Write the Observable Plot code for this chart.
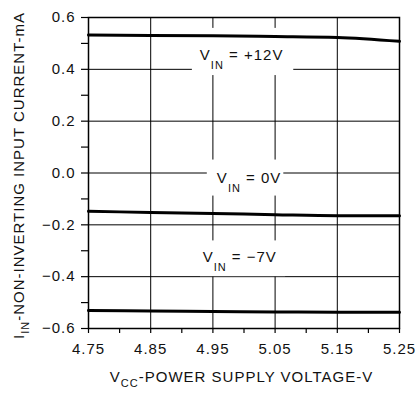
<!DOCTYPE html>
<html><head><meta charset="utf-8">
<script src="https://cdn.jsdelivr.net/npm/d3@7"></script>
<script src="https://cdn.jsdelivr.net/npm/@observablehq/plot@0.6"></script>
<style>
html,body{margin:0;padding:0;background:#fff;}
</style></head><body><div id="chart"></div>
<script>
// ---- data ----
const vcc = [4.75, 4.85, 4.95, 5.05, 5.15, 5.25];
const iinPlus12 = [0.532, 0.531, 0.530, 0.527, 0.523, 0.508];
const iinZero = [-0.148, -0.152, -0.156, -0.161, -0.165, -0.165];
const iinMinus7 = [-0.531, -0.532, -0.534, -0.536, -0.537, -0.537];
const seriesNames = ["+12V", "0V", "-7V"];
const seriesLabels = [" = +12V", " = 0V", " = −7V"];
const xTicks = [4.75, 4.85, 4.95, 5.05, 5.15, 5.25];
const xMinorTicks = [4.80, 4.90, 5.00, 5.10, 5.20];
const xGrid = [4.85, 4.95, 5.05, 5.15];
const yTicks = [-0.6, -0.4, -0.2, 0.0, 0.2, 0.4, 0.6];
const yMinorTicks = [-0.5, -0.3, -0.1, 0.1, 0.3, 0.5];
const yGrid = [-0.4, -0.2, 0.0, 0.2, 0.4];
// label anchors (data units) and their white backing boxes
const labelX = [4.997, 5.009, 4.994];
const labelY = [0.434, -0.042, -0.347];
const boxX1 = [4.917, 4.941, 4.930];
const boxX2 = [5.080, 5.064, 5.067];
const boxY1 = [0.558, 0.050, -0.262];
const boxY2 = [0.376, -0.089, -0.400];
const xTitle = ["V", "CC", "-POWER SUPPLY VOLTAGE-V"];
const yTitle = ["I", "IN", "-NON-INVERTING INPUT CURRENT-mA"];

const seriesValues = [iinPlus12, iinZero, iinMinus7];
const rows = [];
seriesNames.forEach((s, i) => vcc.forEach((x, j) => rows.push({series: s, x, y: seriesValues[i][j]})));
const boxes = seriesNames.map((s, i) => ({x1: boxX1[i], x2: boxX2[i], y1: boxY1[i], y2: boxY2[i]}));

const FONT = "'Liberation Sans', Arial, sans-serif";
const plot = Plot.plot({
  width: 419, height: 396,
  marginLeft: 88, marginRight: 20, marginTop: 17, marginBottom: 68,
  x: {domain: [4.75, 5.25]},
  y: {domain: [-0.6, 0.6]},
  style: {fontFamily: FONT, fontSize: "15px", color: "#111", background: "#fff", letterSpacing: "1px"},
  marks: [
    Plot.gridX(xGrid, {stroke: "#000", strokeOpacity: 1, strokeWidth: 1}),
    Plot.gridY(yGrid, {stroke: "#000", strokeOpacity: 1, strokeWidth: 1}),
    Plot.rect(boxes, {x1: "x1", x2: "x2", y1: "y1", y2: "y2", fill: "#fff"}),
    Plot.frame({stroke: "#000", strokeWidth: 1.5}),
    Plot.axisX(xTicks, {tickSize: 5, tickPadding: 10, tickFormat: d => d.toFixed(2), stroke: "#000", strokeWidth: 1.2, label: null}),
    Plot.axisX(xMinorTicks, {tickSize: 5, tickFormat: () => "", stroke: "#000", strokeWidth: 1.2, label: null}),
    Plot.axisY(yTicks, {tickSize: 7, tickPadding: 6, tickFormat: d => (d < 0 ? "−" : "") + Math.abs(d).toFixed(1), stroke: "#000", strokeWidth: 1.2, label: null}),
    Plot.axisY(yMinorTicks, {tickSize: 7, tickFormat: () => "", stroke: "#000", strokeWidth: 1.2, label: null}),
    Plot.line(rows, {x: "x", y: "y", z: "series", stroke: "#000", strokeWidth: 3, curve: "monotone-x"})
  ]
});
document.getElementById("chart").append(plot);

const svg = d3.select(plot);
const sx = plot.scale("x"), sy = plot.scale("y");
const g = svg.append("g").attr("font-family", FONT).attr("fill", "#111").attr("letter-spacing", "1px");

function subText(sel, main, sub, rest, size, subSize, shift) {
  const t = sel.append("text").attr("font-size", size);
  t.append("tspan").text(main);
  t.append("tspan").attr("font-size", subSize).attr("dy", shift).text(sub);
  t.append("tspan").attr("dy", -shift).text(rest);
  return t;
}

seriesNames.forEach((s, i) => {
  subText(g, "V", "IN", seriesLabels[i], 15, 11, 9)
    .attr("x", sx.apply(labelX[i]))
    .attr("y", sy.apply(labelY[i]))
    .attr("text-anchor", "middle");
});

subText(g, xTitle[0], xTitle[1], xTitle[2], 15, 11, 5)
  .attr("text-anchor", "middle")
  .attr("transform", `translate(${(sx.apply(4.75) + sx.apply(5.25)) / 2 - 2},382)`);

subText(g, yTitle[0], yTitle[1], yTitle[2], 15, 11, 5)
  .attr("text-anchor", "middle")
  .attr("transform", `translate(24,${(sy.apply(-0.6) + sy.apply(0.6)) / 2 + 3}) rotate(-90)`);
</script></body></html>
